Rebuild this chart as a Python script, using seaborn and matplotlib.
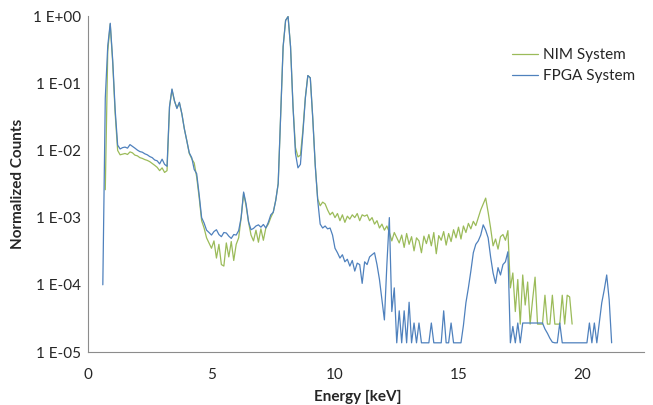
import numpy as np
import pandas as pd
import matplotlib
matplotlib.use('Agg')
import matplotlib.pyplot as plt
import matplotlib.ticker as mticker
import seaborn as sns

# energy channels, 0.1 keV wide, 0.6 .. 21.2 keV
energy = np.round(np.arange(0.6, 21.25, 0.1), 1)

nan = np.nan

# NIM system, one line per keV (k.0 .. k.9)
nim_low = [
    nan, 2.6e-3, 3.0e-1, 7.6e-1,
    2.0e-1, 3.5e-2, 1.0e-2, 8.6e-3, 8.8e-3, 9.0e-3, 8.7e-3, 9.5e-3, 9.2e-3, 8.5e-3,
    8.3e-3, 7.8e-3, 7.6e-3, 7.3e-3, 7.1e-3, 6.8e-3, 6.4e-3, 6.0e-3, 5.6e-3, 5.0e-3,
    5.5e-3, 4.7e-3, 5.0e-3, 4.4e-2, 8.0e-2, 5.4e-2, 4.3e-2, 5.1e-2, 3.5e-2, 2.1e-2,
    1.4e-2, 9.0e-3, 7.5e-3, 6.5e-3, 4.0e-3, 2.0e-3, 9.0e-4, 7.0e-4, 5.0e-4, 4.2e-4,
]
nim_mid = [
    3.5e-4, 4.5e-4, 2.5e-4, 4.0e-4, 2.0e-4, 1.9e-4, 4.2e-4, 2.6e-4, 4.4e-4, 2.3e-4,
    4.0e-4, 5.0e-4, 1.0e-3, 2.3e-3, 1.5e-3, 8.5e-4, 5.5e-4, 4.5e-4, 6.5e-4, 4.3e-4,
    6.8e-4, 4.6e-4, 7.0e-4, 8.0e-4, 1.0e-3, 1.2e-3, 1.8e-3, 3.2e-3, 3.5e-2, 3.5e-1,
    8.6e-1, 9.8e-1, 3.5e-1, 4.5e-2, 1.1e-2, 8.0e-3, 8.5e-3, 2.0e-2, 6.2e-2, 1.3e-1,
    1.2e-1, 3.0e-2, 6.0e-3, 1.9e-3, 1.5e-3, 1.7e-3, 1.6e-3, 1.3e-3, 1.1e-3, 1.2e-3,
]
nim_high = [
    1.0e-3, 1.15e-3, 9.0e-4, 1.1e-3, 8.5e-4, 1.05e-3, 9.5e-4, 1.1e-3, 1.0e-3, 1.15e-3,
    9.0e-4, 1.1e-3, 1.05e-3, 1.1e-3, 9.0e-4, 1.0e-3, 8.0e-4, 9.0e-4, 7.0e-4, 8.0e-4,
    6.5e-4, 7.5e-4, 6.0e-4, 4.5e-4, 6.0e-4, 5.0e-4, 4.2e-4, 5.5e-4, 3.6e-4, 5.8e-4,
    4.0e-4, 5.2e-4, 3.2e-4, 5.0e-4, 4.5e-4, 3.0e-4, 5.3e-4, 4.1e-4, 5.6e-4, 3.8e-4,
    6.0e-4, 2.9e-4, 5.4e-4, 4.6e-4, 6.2e-4, 3.9e-4, 5.8e-4, 4.4e-4, 6.6e-4, 5.0e-4,
    7.2e-4, 4.8e-4, 7.5e-4, 6.0e-4, 8.2e-4, 6.8e-4, 8.8e-4, 7.6e-4, 1.0e-3, 1.3e-3,
    1.6e-3, 1.95e-3, 1.2e-3, 7.0e-4, 3.8e-4, 4.8e-4, 3.4e-4, 5.2e-4, 5.6e-4, 4.6e-4,
]
nim_tail = [
    6.4e-4, 9.0e-5, 1.5e-4, 4.0e-5, 1.2e-4, 2.6e-5, 1.4e-4, 5.0e-5, 1.1e-4, 2.6e-5,
    6.0e-5, 1.3e-4, 2.6e-5, 2.6e-5, 2.6e-5, 7.0e-5, 2.6e-5, 2.6e-5, 7.0e-5, 2.6e-5,
    2.6e-5, 2.6e-5, 7.0e-5, 2.6e-5, 7.0e-5, 6.6e-5, 2.6e-5, nan, nan, nan,
    nan, nan, nan, nan, nan, nan, nan, nan, nan, nan,
    nan, nan, nan,
]

# FPGA system
fpga_low = [
    1.0e-4, 6.0e-2, 3.6e-1, 7.8e-1,
    2.2e-1, 4.0e-2, 1.2e-2, 1.05e-2, 1.1e-2, 1.12e-2, 1.08e-2, 1.22e-2, 1.15e-2, 1.08e-2,
    1.01e-2, 9.6e-3, 9.4e-3, 8.9e-3, 8.6e-3, 8.1e-3, 7.8e-3, 7.2e-3, 7.0e-3, 6.3e-3,
    7.4e-3, 6.2e-3, 5.8e-3, 4.5e-2, 8.2e-2, 5.5e-2, 4.2e-2, 5.2e-2, 3.5e-2, 2.1e-2,
    1.4e-2, 9.2e-3, 7.8e-3, 5.2e-3, 4.5e-3, 2.2e-3, 1.0e-3, 8.3e-4, 6.5e-4, 6.0e-4,
]
fpga_mid = [
    5.5e-4, 6.2e-4, 6.6e-4, 5.6e-4, 5.2e-4, 6.0e-4, 5.9e-4, 5.3e-4, 4.9e-4, 5.6e-4,
    5.5e-4, 6.4e-4, 1.0e-3, 2.4e-3, 1.6e-3, 8.7e-4, 6.6e-4, 6.9e-4, 7.5e-4, 7.8e-4,
    7.2e-4, 7.9e-4, 7.0e-4, 8.5e-4, 1.1e-3, 1.2e-3, 1.8e-3, 3.2e-3, 3.5e-2, 3.5e-1,
    8.6e-1, 9.8e-1, 3.5e-1, 4.5e-2, 9.0e-3, 5.5e-3, 6.2e-3, 1.8e-2, 6.0e-2, 1.3e-1,
    1.2e-1, 3.0e-2, 6.0e-3, 1.8e-3, 8.0e-4, 7.0e-4, 7.5e-4, 6.8e-4, 7.0e-4, 5.5e-4,
]
fpga_high = [
    3.5e-4, 3.0e-4, 2.5e-4, 2.8e-4, 2.2e-4, 2.4e-4, 1.9e-4, 2.3e-4, 1.6e-4, 2.1e-4,
    2.0e-4, 1.05e-4, 2.2e-4, 2.0e-4, 2.6e-4, 2.8e-4, 3.0e-4, 2.0e-4, 1.2e-4, 6.0e-5,
    3.0e-5, 2.0e-4, 1.0e-3, 4.0e-5, 9.0e-5, 1.37e-5, 4.1e-5, 1.37e-5, 4.1e-5, 1.37e-5,
    5.5e-5, 1.37e-5, 2.7e-5, 1.37e-5, 2.7e-5, 1.37e-5, 1.37e-5, 1.37e-5, 1.37e-5, 2.7e-5,
    1.37e-5, 1.37e-5, 1.37e-5, 1.37e-5, 4.1e-5, 1.37e-5, 1.37e-5, 2.7e-5, 1.37e-5, 1.37e-5,
    1.37e-5, 1.37e-5, 2.5e-5, 5.4e-5, 9.0e-5, 1.6e-4, 3.0e-4, 4.0e-4, 4.5e-4, 5.5e-4,
    7.8e-4, 6.5e-4, 5.0e-4, 2.6e-4, 1.5e-4, 1.05e-4, 1.8e-4, 1.4e-4, 2.0e-4, 2.2e-4,
]
fpga_tail = [
    3.1e-4, 1.37e-5, 2.4e-5, 1.37e-5, 2.7e-5, 1.37e-5, 2.7e-5, 2.7e-5, 2.7e-5, 2.7e-5,
    2.7e-5, 2.7e-5, 2.7e-5, 2.7e-5, 2.7e-5, 2.2e-5, 1.9e-5, 1.6e-5, 1.4e-5, 1.37e-5,
    1.37e-5, 2.7e-5, 1.37e-5, 1.37e-5, 1.37e-5, 1.37e-5, 1.37e-5, 1.37e-5, 1.37e-5, 1.37e-5,
    1.37e-5, 1.37e-5, 1.37e-5, 2.7e-5, 1.37e-5, 2.7e-5, 1.37e-5, 2.7e-5, 5.4e-5, 8.4e-5,
    1.4e-4, 6.0e-5, 1.37e-5,
]

nim = nim_low + nim_mid + nim_high + nim_tail
fpga = fpga_low + fpga_mid + fpga_high + fpga_tail
assert len(nim) == len(energy) and len(fpga) == len(energy)

df = pd.DataFrame({'Energy': energy, 'NIM System': nim, 'FPGA System': fpga})

sns.set_style('white')
plt.rcParams['font.family'] = ['Lato', 'DejaVu Sans']

W, H = 653, 405
fig = plt.figure(figsize=(W / 100, H / 100), dpi=100)
x0, x1, y0, y1 = 88, 88 + 22.5 * 24.7, 16, 352
ax = fig.add_axes([x0 / W, 1 - y1 / H, (x1 - x0) / W, (y1 - y0) / H])

sns.lineplot(data=df, x='Energy', y='NIM System', ax=ax, color='#9BBB59',
             lw=0.9, label='NIM System')
sns.lineplot(data=df, x='Energy', y='FPGA System', ax=ax, color='#4F81BD',
             lw=0.9, label='FPGA System')

ax.set_yscale('log')
ax.set_ylim(1e-5, 1)
ax.set_xlim(0, 22.5)
ax.yaxis.set_major_locator(mticker.LogLocator(base=10, numticks=10))
ax.yaxis.set_minor_locator(mticker.LogLocator(base=10, subs=np.arange(2, 10), numticks=10))
ax.yaxis.set_minor_formatter(mticker.NullFormatter())
ax.yaxis.set_major_formatter(mticker.FuncFormatter(
    lambda v, p: f"1 E{int(round(np.log10(v))):+03d}"))
ax.xaxis.set_major_locator(mticker.MultipleLocator(5))
ax.xaxis.set_minor_locator(mticker.MultipleLocator(1))

for s in ['top', 'right']:
    ax.spines[s].set_visible(False)
for s in ['left', 'bottom']:
    ax.spines[s].set_color('#8c8c8c')
    ax.spines[s].set_linewidth(0.8)

ax.tick_params(axis='y', which='major', direction='inout', length=6, width=0.8,
               color='#8c8c8c', labelsize=11, labelcolor='#262626', pad=2)
ax.tick_params(axis='y', which='minor', direction='in', length=3, width=0.6,
               color='#8c8c8c')
ax.tick_params(axis='x', which='both', direction='inout', length=5, width=0.8,
               color='#8c8c8c', labelsize=11, labelcolor='#262626', pad=9)

ax.set_xlabel('Energy [keV]', fontsize=11, fontweight='bold', color='#262626', va='center')
ax.xaxis.set_label_coords((358 - x0) / (x1 - x0), (y1 - 397) / (y1 - y0))
ax.set_ylabel('Normalized Counts', fontsize=11, fontweight='bold', color='#262626', labelpad=6)

leg = ax.legend(loc='upper left',
                bbox_to_anchor=((506 - x0) / (x1 - x0), 1 - (42 - y0) / (y1 - y0)),
                frameon=False, fontsize=11, handlelength=1.7, handletextpad=0.3,
                labelspacing=0.45, borderaxespad=0)
for t in leg.get_texts():
    t.set_color('#262626')

fig.savefig('out.png', dpi=100)
